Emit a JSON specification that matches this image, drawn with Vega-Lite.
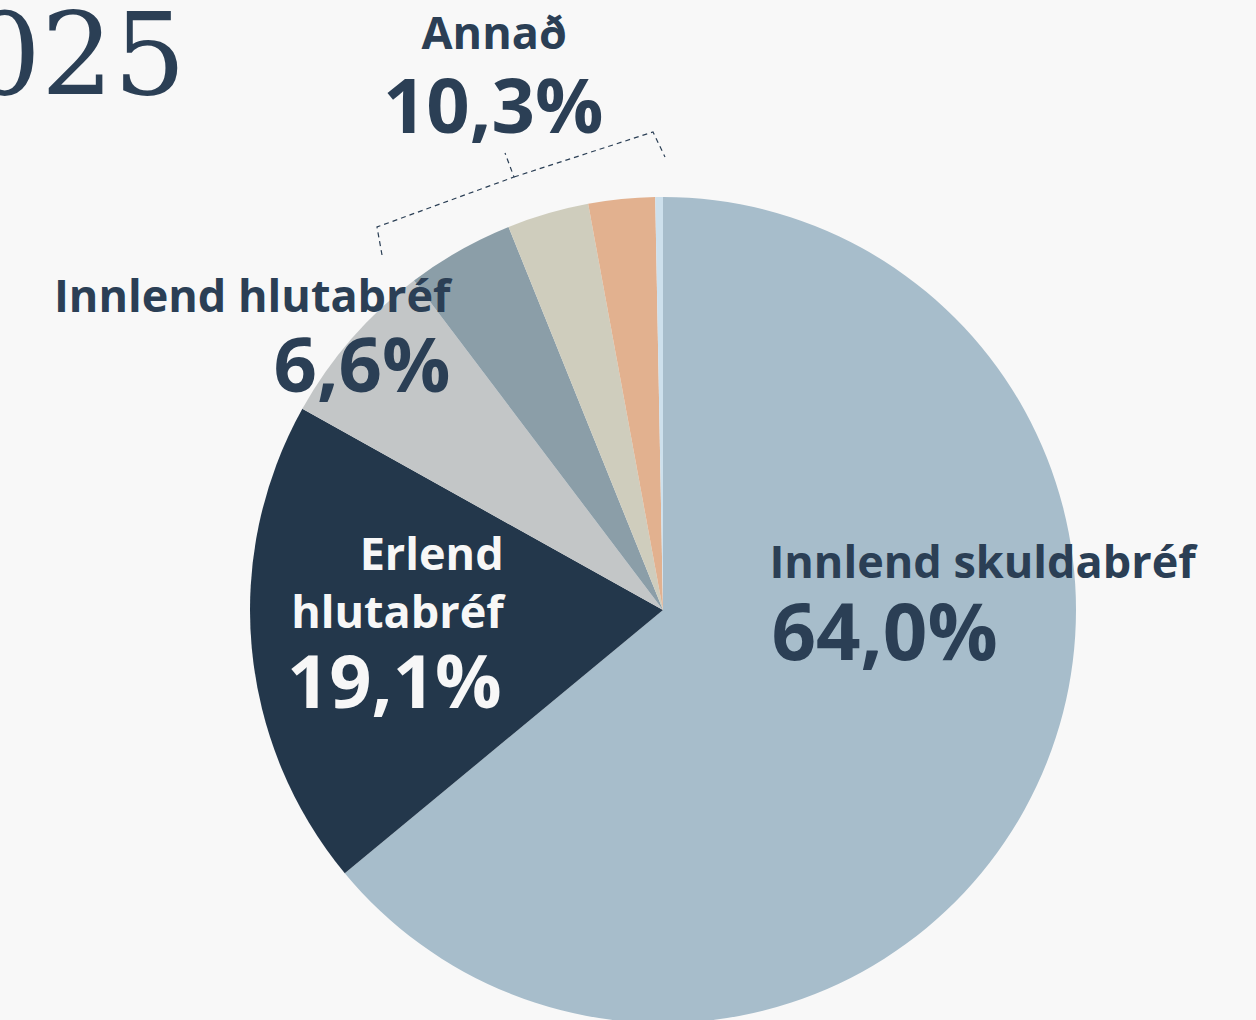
{
  "$schema": "https://vega.github.io/schema/vega-lite/v6.json",
  "width": 1126,
  "height": 820,
  "autosize": {"type": "none"},
  "padding": {"left": 100, "top": 200, "right": 30, "bottom": 0},
  "background": "#f8f8f8",
  "title": {
    "text": "2025",
    "anchor": "start",
    "frame": "group",
    "font": "DejaVu Serif",
    "fontSize": 114,
    "fontWeight": "normal",
    "color": "#2b3f55",
    "baseline": "alphabetic",
    "dx": -204,
    "dy": 195,
    "offset": 0
  },
  "config": {
    "view": {"stroke": null},
    "locale": {"number": {"decimal": ",", "thousands": ".", "grouping": [3], "currency": ["", " kr."]}}
  },
  "datasets": {
    "slices": [
      {"category": "Innlend skuldabréf", "group": "Innlend skuldabréf", "share": 0.640, "rank": 1},
      {"category": "Erlend hlutabréf", "group": "Erlend hlutabréf", "share": 0.191, "rank": 2},
      {"category": "Innlend hlutabréf", "group": "Innlend hlutabréf", "share": 0.066, "rank": 3},
      {"category": "Annað A", "group": "Annað", "share": 0.042, "rank": 4},
      {"category": "Annað B", "group": "Annað", "share": 0.032, "rank": 5},
      {"category": "Annað C", "group": "Annað", "share": 0.026, "rank": 6},
      {"category": "Annað D", "group": "Annað", "share": 0.003, "rank": 7}
    ],
    "bracket": [
      {"piece": "a", "step": 1, "x": -281, "y": 355},
      {"piece": "a", "step": 2, "x": -286, "y": 383},
      {"piece": "a", "step": 3, "x": -149, "y": 433},
      {"piece": "a", "step": 4, "x": -158, "y": 457},
      {"piece": "b", "step": 1, "x": -149, "y": 433},
      {"piece": "b", "step": 2, "x": -10, "y": 478},
      {"piece": "b", "step": 3, "x": 2, "y": 453}
    ]
  },
  "layer": [
    {
      "data": {"name": "slices"},
      "mark": {"type": "arc", "outerRadius": 413},
      "encoding": {
        "theta": {"field": "share", "type": "quantitative", "stack": true},
        "order": {"field": "rank", "type": "quantitative", "sort": "ascending"},
        "color": {
          "field": "category",
          "type": "nominal",
          "legend": null,
          "scale": {
            "domain": ["Innlend skuldabréf", "Erlend hlutabréf", "Innlend hlutabréf", "Annað A", "Annað B", "Annað C", "Annað D"],
            "range": ["#a7bdcb", "#23374b", "#c3c6c7", "#8b9ea8", "#cfcdbd", "#e2b18f", "#cde0ec"]
          }
        }
      }
    },
    {
      "data": {"name": "bracket"},
      "mark": {"type": "line", "stroke": "#2b3f55", "strokeWidth": 1.2, "strokeDash": [5, 4]},
      "encoding": {
        "x": {"field": "x", "type": "quantitative", "scale": {"domain": [-563, 563], "nice": false, "zero": false}, "axis": null},
        "y": {"field": "y", "type": "quantitative", "scale": {"domain": [-410, 410], "nice": false, "zero": false}, "axis": null},
        "detail": {"field": "piece", "type": "nominal"},
        "order": {"field": "step", "type": "quantitative"}
      }
    },
    {
      "data": {"name": "slices"},
      "transform": [
        {"aggregate": [{"op": "sum", "field": "share", "as": "share"}, {"op": "min", "field": "rank", "as": "rank"}], "groupby": ["group"]}
      ],
      "encoding": {
        "theta": {"field": "share", "type": "quantitative", "stack": true},
        "order": {"field": "rank", "type": "quantitative", "sort": "ascending"}
      },
      "layer": [
        {
          "mark": {"type": "text", "radius": 122, "align": "left", "baseline": "alphabetic", "dx": -4, "dy": -84, "font": "Open Sans", "fontSize": 45, "fontWeight": 700, "fill": "#2b3f55"},
          "encoding": {"text": {"condition": {"test": "datum.rank === 1", "field": "group", "type": "nominal"}, "value": ""}}
        },
        {
          "mark": {"type": "text", "radius": 122, "align": "left", "baseline": "alphabetic", "dx": -2, "dy": -2, "font": "Open Sans", "fontSize": 78, "fontWeight": 700, "fill": "#2b3f55"},
          "encoding": {"text": {"condition": {"test": "datum.rank === 1", "field": "share", "type": "quantitative", "format": ".1%"}, "value": ""}}
        },
        {
          "mark": {"type": "text", "radius": 162, "align": "right", "baseline": "alphabetic", "dx": 2, "dy": -55, "lineBreak": " ", "lineHeight": 58, "font": "Open Sans", "fontSize": 45, "fontWeight": 700, "fill": "#f7f7f7"},
          "encoding": {"text": {"condition": {"test": "datum.rank === 2", "field": "group", "type": "nominal"}, "value": ""}}
        },
        {
          "mark": {"type": "text", "radius": 162, "align": "right", "baseline": "alphabetic", "dx": 0, "dy": 83, "font": "Open Sans", "fontSize": 74, "fontWeight": 700, "fill": "#f7f7f7"},
          "encoding": {"text": {"condition": {"test": "datum.rank === 2", "field": "share", "type": "quantitative", "format": ".1%"}, "value": ""}}
        },
        {
          "mark": {"type": "text", "radius": 283, "align": "right", "baseline": "alphabetic", "dx": 1, "dy": -112, "font": "Open Sans", "fontSize": 45, "fontWeight": 700, "fill": "#2b3f55"},
          "encoding": {"text": {"condition": {"test": "datum.rank === 3", "field": "group", "type": "nominal"}, "value": ""}}
        },
        {
          "mark": {"type": "text", "radius": 283, "align": "right", "baseline": "alphabetic", "dx": 1, "dy": -32, "font": "Open Sans", "fontSize": 76, "fontWeight": 700, "fill": "#2b3f55"},
          "encoding": {"text": {"condition": {"test": "datum.rank === 3", "field": "share", "type": "quantitative", "format": ".1%"}, "value": ""}}
        },
        {
          "mark": {"type": "text", "radius": 531, "align": "center", "baseline": "alphabetic", "dx": 0, "dy": -58, "font": "Open Sans", "fontSize": 45, "fontWeight": 700, "fill": "#2b3f55"},
          "encoding": {"text": {"condition": {"test": "datum.rank === 4", "field": "group", "type": "nominal"}, "value": ""}}
        },
        {
          "mark": {"type": "text", "radius": 531, "align": "center", "baseline": "alphabetic", "dx": -1, "dy": 26, "font": "Open Sans", "fontSize": 76, "fontWeight": 700, "fill": "#2b3f55"},
          "encoding": {"text": {"condition": {"test": "datum.rank === 4", "field": "share", "type": "quantitative", "format": ".1%"}, "value": ""}}
        }
      ]
    }
  ]
}
